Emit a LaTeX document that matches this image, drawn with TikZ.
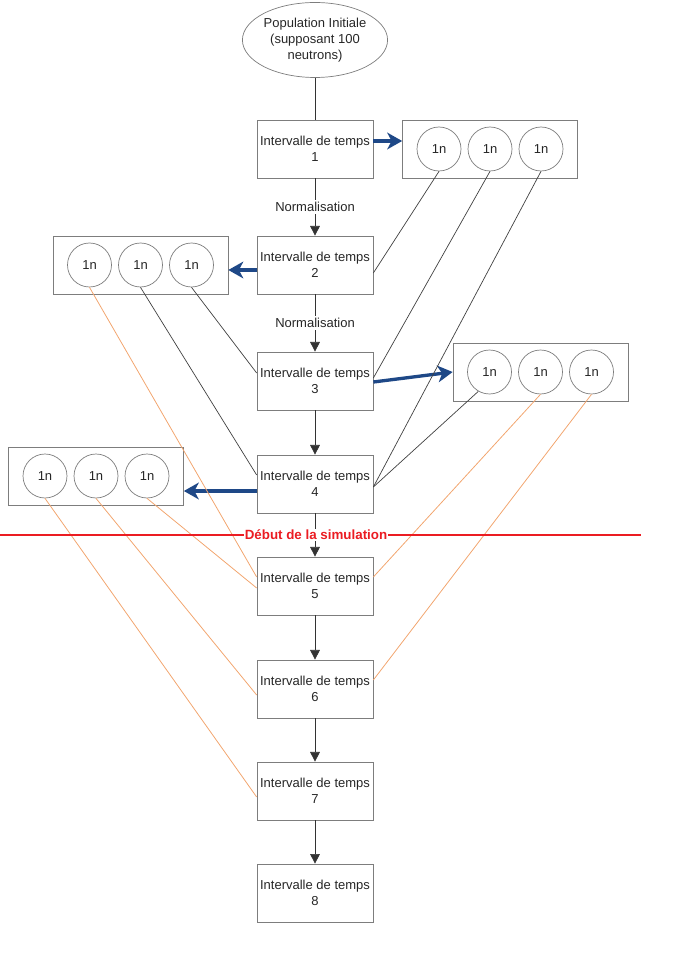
\documentclass[tikz,border=0pt]{standalone}
\usepackage{fontspec}
\setmainfont{Liberation Sans}
\usepackage{xcolor}
\usepackage{tikz}
\usetikzlibrary{shapes, arrows.meta, positioning, calc}

\definecolor{boxgray}{RGB}{125,125,125}
\definecolor{fissionorange}{RGB}{242,165,110}
\definecolor{pushblue}{RGB}{30,72,135}
\definecolor{simred}{RGB}{235,28,34}

\begin{document}
\begin{tikzpicture}[x=0.02cm, y=-0.02cm, >={Triangle[width=5.5pt,length=5.5pt]},
        font=\fontsize{7.4}{9}\selectfont,
        interval/.style={draw=boxgray, text=black!85, minimum width=2.32cm,
            minimum height=1.16cm, align=center, inner sep=1pt},
        group/.style={draw=boxgray, minimum width=3.5cm, minimum height=1.16cm},
        neutron/.style={circle, draw=boxgray, text=black!85, minimum size=0.88cm, inner sep=0pt},
        link/.style={black!75, line width=0.4pt},
        fission/.style={fissionorange, line width=0.45pt},
        push/.style={-{Stealth[length=8.5pt,width=9.5pt,inset=2.5pt]}, pushblue, line width=1.9pt}]
        \useasboundingbox (0,0) rectangle (678,962);

        % Initial population
        \node[ellipse, draw=boxgray, text=black!85, minimum width=2.8cm, minimum height=1.5cm,
            align=center, inner sep=0pt] (pop) at (315,40)
            {Population Initiale\\(supposant 100\\neutrons)};

        % Time intervals
        \foreach \i/\y in {1/149, 2/265, 3/381, 4/484, 5/586, 6/689, 7/791, 8/893}
            \node[interval] (b\i) at (315,\y) {Intervalle de temps\\\i};

        % Neutron groups
        \node[group] (gA) at (490,149) {};
        \node[group] (gB) at (140.5,265) {};
        \node[group] (gC) at (540.5,372) {};
        \node[group] (gD) at (96,476) {};
        \foreach \g in {A, B, C, D}
            \foreach \i/\dx in {1/-51, 2/0, 3/51}
                \node[neutron] (\g\i) at ($(g\g)+(\dx,0)$) {1n};

        % Main chain
        \draw[black!80] (pop) -- (b1);
        \draw[->, black!80] (b1) -- (b2) node[midway, fill=white, text=black!85, inner sep=1pt] {Normalisation};
        \draw[->, black!80] (b2) -- (b3) node[midway, fill=white, text=black!85, inner sep=1pt] {Normalisation};
        \foreach \a/\b in {3/4, 4/5, 5/6, 6/7, 7/8}
            \draw[->, black!80] (b\a) -- (b\b);

        % Neutrons produced
        \draw[push] ($(b1.east)+(0,-8)$) -- ($(gA.west)+(0,-8)$);
        \draw[push] ($(b2.west)+(0,5)$) -- ($(gB.east)+(0,5)$);
        \draw[push] ($(b3.east)+(0,1)$) -- (gC.west);
        \draw[push] ($(b4.west)+(0,7)$) -- ($(gD.east)+(0,15)$);

        % Neutrons absorbed before the simulation
        \draw[link] (A1.south) -- ($(b2.east)+(0,8)$);
        \draw[link] (A2.south) -- ($(b3.east)+(0,-3)$);
        \draw[link] (A3.south) -- ($(b4.east)+(0,3)$);
        \draw[link] (C1.240) -- ($(b4.east)+(0,3)$);
        \draw[link] (B2.south) -- ($(b4.west)+(0,-9)$);
        \draw[link] (B3.south) -- ($(b3.west)+(0,-8)$);

        % Neutrons absorbed during the simulation
        \draw[fission] (B1.south) -- ($(b5.west)+(0,-9)$);
        \draw[fission] (C2.south) -- ($(b5.east)+(0,-9)$);
        \draw[fission] (C3.south) -- ($(b6.east)+(0,-9)$);
        \draw[fission] (D1.south) -- ($(b7.west)+(0,6)$);
        \draw[fission] (D2.south) -- ($(b6.west)+(0,6)$);
        \draw[fission] (D3.south) -- ($(b5.west)+(0,2)$);

        % Start of the simulation
        \coordinate (simL) at (0,535);
        \coordinate (simR) at (641,535);
        \draw[simred, line width=1.1pt] (simL) -- (simR)
            node[pos=0.493, fill=white, inner sep=0.5pt, font=\fontsize{7.6}{9}\selectfont\bfseries] (sim) {Début de la simulation};
    \end{tikzpicture}
\end{document}
